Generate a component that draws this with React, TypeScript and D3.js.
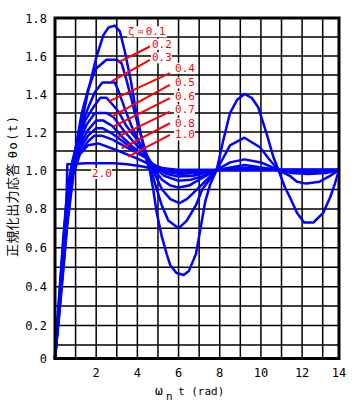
import React from "react";
import * as d3 from "d3";

type P = [number, number];

const xTickValues = [2, 4, 6, 8, 10, 12, 14];
const yTickValues = [0, 0.2, 0.4, 0.6, 0.8, 1.0, 1.2, 1.4, 1.6, 1.8];
const yTickLabels = ["0", "0.2", "0.4", "0.6", "0.8", "1.0", "1.2", "1.4", "1.6", "1.8"];
const xGrid = [1, 2, 3, 4, 5, 6, 7, 8, 9, 10, 11, 12, 13];
const yGrid = [0.1, 0.2, 0.3, 0.4, 0.5, 0.6, 0.7, 0.8, 0.9, 1.0, 1.1, 1.2, 1.3, 1.4, 1.5, 1.6, 1.7];

const z01: P[] = [[0,0],[0.2,0.35],[0.4,0.65],[0.6,0.9],[0.85,1.05],[1.2,1.2],[1.6,1.41],[2.0,1.59],[2.35,1.71],[2.6,1.75],[2.9,1.76],[3.15,1.73],[3.4,1.62],[3.7,1.46],[3.9,1.33],[4.2,1.17],[4.45,1.05],[4.6,1.0],[4.77,0.9],[4.94,0.78],[5.18,0.66],[5.42,0.57],[5.6,0.51],[5.9,0.47],[6.25,0.46],[6.5,0.48],[6.85,0.57],[7.05,0.69],[7.3,0.84],[7.55,0.93],[7.85,1.0],[8.18,1.16],[8.5,1.3],[8.85,1.37],[9.2,1.4],[9.55,1.38],[9.87,1.33],[10.28,1.19],[10.6,1.07],[10.85,1.0],[11.17,0.91],[11.45,0.85],[11.75,0.78],[12.1,0.73],[12.55,0.73],[13.03,0.78],[13.46,0.86],[13.75,0.93],[14,1.0]];
const z02: P[] = [[0,0],[0.2,0.33],[0.4,0.62],[0.6,0.87],[0.88,1.04],[1.3,1.3],[1.6,1.42],[1.96,1.53],[2.5,1.58],[3.0,1.58],[3.24,1.56],[3.48,1.47],[3.72,1.37],[3.97,1.26],[4.29,1.14],[4.53,1.05],[4.75,0.97],[4.94,0.9],[5.18,0.82],[5.5,0.74],[6.0,0.70],[6.4,0.74],[6.85,0.82],[7.15,0.9],[7.85,1.0],[8.5,1.13],[9.2,1.17],[9.95,1.12],[10.45,1.05],[10.85,1.0],[11.4,0.97],[11.75,0.94],[12.2,0.93],[12.85,0.94],[13.45,0.97],[14,1.0]];
const z03: P[] = [[0,0],[0.2,0.32],[0.4,0.6],[0.6,0.85],[0.9,1.04],[1.3,1.24],[1.62,1.33],[1.94,1.41],[2.3,1.46],[2.9,1.46],[3.07,1.42],[3.4,1.32],[3.72,1.23],[4.13,1.14],[4.53,1.05],[4.8,0.99],[5.2,0.9],[5.6,0.85],[6.05,0.83],[6.4,0.85],[6.9,0.9],[7.85,1.0],[8.5,1.04],[9.2,1.056],[10.0,1.04],[10.85,1.0],[11.5,0.985],[12.3,0.98],[13.2,0.985],[14,1.0]];
const z04: P[] = [[0,0],[0.2,0.3],[0.4,0.58],[0.6,0.83],[0.9,1.03],[1.46,1.26],[1.86,1.33],[2.2,1.38],[2.5,1.38],[2.75,1.35],[3.07,1.31],[3.48,1.23],[3.97,1.16],[4.45,1.08],[4.7,1.02],[5.2,0.95],[5.6,0.92],[6.0,0.91],[6.5,0.92],[7.0,0.95],[7.85,1.0],[9.2,1.026],[10.85,1.0],[12.3,0.99],[14,1.0]];
const z05: P[] = [[0,0],[0.2,0.29],[0.4,0.56],[0.6,0.8],[0.9,1.03],[1.2,1.15],[1.54,1.24],[1.94,1.30],[2.5,1.30],[2.83,1.28],[3.32,1.21],[3.8,1.15],[4.45,1.08],[4.7,1.03],[5.3,0.97],[6.0,0.945],[6.6,0.95],[7.2,0.97],[7.85,1.0],[9.2,1.012],[10.85,1.0],[14,1.0]];
const z06: P[] = [[0,0],[0.2,0.28],[0.4,0.54],[0.6,0.78],[0.9,1.02],[1.2,1.13],[1.6,1.21],[2.0,1.26],[2.35,1.26],[2.8,1.23],[3.3,1.17],[3.8,1.12],[4.5,1.06],[4.75,1.03],[5.4,0.98],[6.0,0.966],[6.7,0.97],[7.85,1.0],[14,1.0]];
const z07: P[] = [[0,0],[0.2,0.27],[0.4,0.52],[0.6,0.76],[0.9,1.01],[1.2,1.11],[1.6,1.18],[2.0,1.22],[2.3,1.22],[2.8,1.19],[3.3,1.15],[3.8,1.11],[4.5,1.06],[4.75,1.03],[5.4,0.99],[6.0,0.98],[6.8,0.985],[7.85,1.0],[14,1.0]];
const z08: P[] = [[0,0],[0.2,0.26],[0.4,0.5],[0.6,0.74],[0.9,1.0],[1.2,1.09],[1.6,1.15],[1.9,1.18],[2.3,1.18],[2.8,1.16],[3.3,1.13],[3.8,1.1],[4.5,1.06],[4.75,1.03],[5.4,1.0],[6.0,0.99],[7.85,1.0],[14,1.0]];
const z10: P[] = [[0,0],[0.2,0.25],[0.4,0.48],[0.6,0.72],[0.9,0.98],[1.2,1.08],[1.6,1.13],[2.1,1.14],[2.6,1.12],[3.1,1.1],[3.55,1.08],[4.0,1.06],[4.6,1.03],[5.2,1.01],[6.0,1.0],[14,1.0]];
const z20: P[] = [[0,0],[0.2,0.3],[0.4,0.6],[0.56,0.85],[0.6,1.03],[1.5,1.035],[2.9,1.035],[3.5,1.03],[4.2,1.02],[4.8,1.005],[5.5,1.0],[14,1.0]];

const curves: P[][] = [z01, z02, z03, z04, z05, z06, z07, z08, z10, z20];

// label text, anchor (t, v), leader line from (t, v) to (t, v)
const labelTexts = ["ζ＝0.1", "0.2", "0.3", "0.4", "0.5", "0.6", "0.7", "0.8", "1.0", "2.0"];
const labelPos: P[] = [[3.55, 1.709], [4.71, 1.643], [4.71, 1.572], [5.83, 1.517], [5.83, 1.44], [5.83, 1.369], [5.83, 1.298], [5.83, 1.227], [5.83, 1.166], [1.8, 0.964]];
const leaderFrom: (P | null)[] = [null, [4.61, 1.65], [4.61, 1.58], [5.58, 1.51], [5.58, 1.448], [5.58, 1.378], [5.58, 1.307], [5.58, 1.246], [5.58, 1.185], null];
const leaderTo: (P | null)[] = [null, [3.07, 1.566], [2.75, 1.466], [2.59, 1.36], [2.75, 1.281], [2.83, 1.228], [3.07, 1.176], [3.24, 1.114], [3.56, 1.07], null];

const yTitleMain = "正規化出力応答";
const yTitleSym = "θo(t)";
const xTitleMain = "ω";
const xTitleSub = "n";
const xTitleTail = "t (rad)";

const x = d3.scaleLinear().domain([0, 13, 14]).range([55, 322.7, 339]);
const y = d3.scaleLinear().domain([0, 0.1, 1.0, 1.8]).range([358.5, 345, 170, 18]);

const mono = "'DejaVu Sans Mono', 'Liberation Mono', monospace";
const cjk = "'Noto Sans CJK JP', 'Noto Sans CJK SC', sans-serif";

export default function App() {
  const line = d3.line<P>().x((d) => x(d[0])).y((d) => y(d[1]));
  const charW = 6.6;
  return (
    <svg width={357} height={405} style={{ position: "absolute", left: 0, top: 0, background: "#fff" }}>
      <rect x={0} y={0} width={357} height={405} fill="#fff" />
      {xGrid.map((t) => (
        <line key={"gx" + t} x1={x(t)} x2={x(t)} y1={y(0)} y2={y(1.8)} stroke="#000" strokeWidth={1.5} />
      ))}
      {yGrid.map((v) => (
        <line key={"gy" + v} x1={x(0)} x2={x(14)} y1={y(v)} y2={y(v)} stroke="#000" strokeWidth={1.5} />
      ))}
      {curves.map((c, i) => (
        <path key={"c" + i} d={line(c) || ""} fill="none" stroke="#0000ff" strokeWidth={2.5} strokeLinejoin="round" />
      ))}
      {labelTexts.map((s, i) => {
        const p = labelPos[i];
        const lx = x(p[0]);
        const ly = y(p[1]);
        const w = s.length * charW + (i === 0 ? 6 : 0);
        return (
          <g key={"lb" + i}>
            <rect x={lx - 1} y={ly - 9} width={w + 1} height={11} fill="#fff" />
            <text x={lx} y={ly} fontFamily={mono} fontSize={11} fill="#ff0000">{s}</text>
          </g>
        );
      })}
      {labelTexts.map((s, i) => {
        const a = leaderFrom[i];
        const b = leaderTo[i];
        if (!a || !b) return null;
        return <line key={"ld" + i} x1={x(a[0])} y1={y(a[1])} x2={x(b[0])} y2={y(b[1])} stroke="#ff0000" strokeWidth={2} />;
      })}
      <rect x={x(0)} y={y(1.8)} width={x(14) - x(0)} height={y(0) - y(1.8)} fill="none" stroke="#000" strokeWidth={3} />
      {yTickValues.map((v, i) => (
        <text key={"yt" + i} x={47} y={y(v) + 4.5} textAnchor="end" fontFamily={mono} fontSize={12} fill="#000">{yTickLabels[i]}</text>
      ))}
      {xTickValues.map((t) => (
        <text key={"xt" + t} x={x(t)} y={377} textAnchor="middle" fontFamily={mono} fontSize={12} fill="#000">{t}</text>
      ))}
      <text y={395} fontFamily={mono} fill="#000">
        <tspan x={155} fontSize={13}>{xTitleMain}</tspan>
        <tspan x={166} y={400} fontSize={11}>{xTitleSub}</tspan>
        <tspan x={178} y={395} fontSize={11}>{xTitleTail}</tspan>
      </text>
      <text transform="translate(17,257) rotate(-90)" fill="#000">
        <tspan fontFamily={cjk} fontSize={13} letterSpacing={0.4}>{yTitleMain}</tspan>
        <tspan fontFamily={mono} fontSize={12} dx={5} letterSpacing={1.5}>{yTitleSym}</tspan>
      </text>
    </svg>
  );
}
